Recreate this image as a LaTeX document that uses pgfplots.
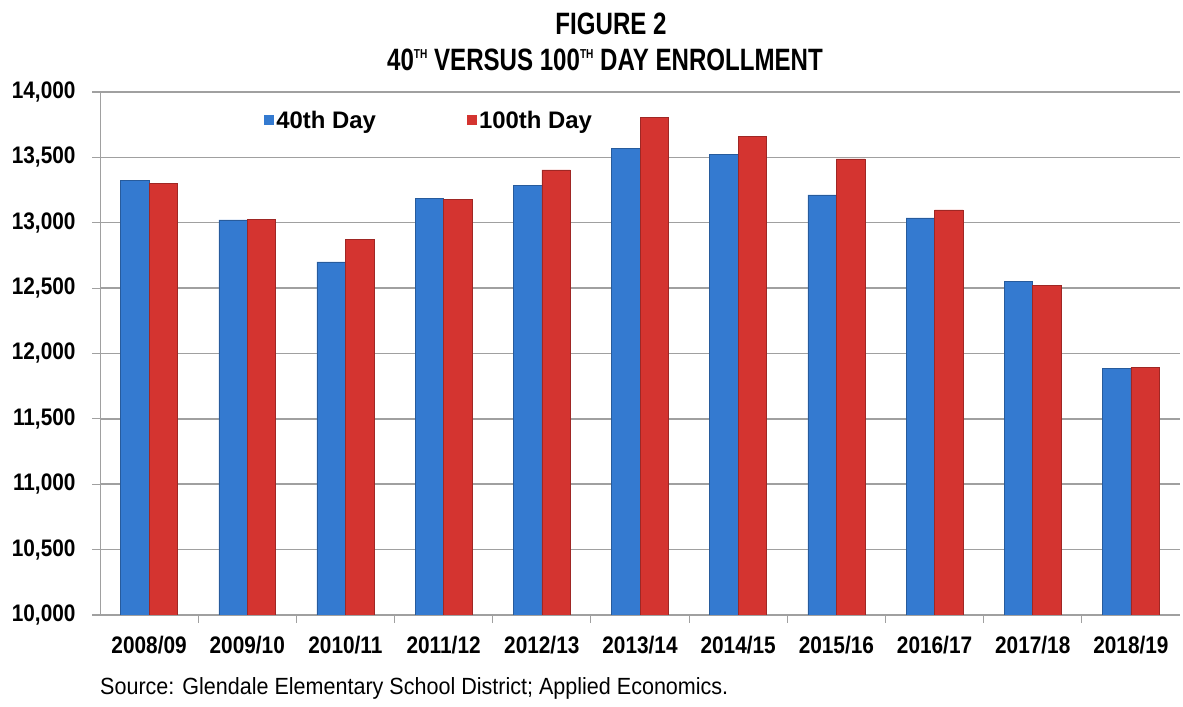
\documentclass[border=0pt]{standalone}
\usepackage{pgfplots}
\pgfplotsset{compat=1.18}
\usepackage{fontspec}
\setmainfont{Liberation Sans}
\newfontfamily\narrowfont{Liberation Sans}[FakeStretch=0.78]
\newfontfamily\condfont{Liberation Sans}[FakeStretch=0.87]
\newfontfamily\srcfont{Liberation Sans}[FakeStretch=0.92]
\definecolor{barblue}{RGB}{52,122,208}
\definecolor{barred}{RGB}{212,52,48}
\definecolor{gridgray}{RGB}{160,160,160}

\pgfplotstableread{
x  d40    d100
0  13323  13302
1  13022  13024
2  12700  12872
3  13188  13176
4  13284  13404
5  13566  13804
6  13522  13660
7  13213  13489
8  13037  13098
9  12550  12523
10 11888  11892
}\enrol

\newcommand{\sth}{\raisebox{12bp}{\fontsize{13}{13}\selectfont TH}}

\begin{document}
\begin{tikzpicture}[x=1bp,y=1bp]
\useasboundingbox (0,0) rectangle (1183,707);
\begin{axis}[
  at={(100bp,92bp)}, anchor=south west,
  scale only axis, width=1080bp, height=523bp,
  xmin=-0.5, xmax=10.5, ymin=10000, ymax=14000,
  ybar=0pt, bar width=0.29,
  axis lines*=left,
  axis line style={gridgray, line width=0.6bp},
  xtick={0,...,10},
  xticklabels={2008/09,2009/10,2010/11,2011/12,2012/13,2013/14,2014/15,2015/16,2016/17,2017/18,2018/19},
  minor xtick={0.5,1.5,...,9.5},
  major x tick style={draw=none},
  minor x tick style={gridgray, line width=1bp},
  minor tick length=8bp,
  tick align=outside,
  ytick={10000,10500,...,14000},
  major y tick style={gridgray, line width=1.2bp},
  major tick length=8bp,
  ymajorgrids,
  major grid style={gridgray, line width=1.5bp},
  scaled y ticks=false,
  /pgf/number format/.cd, 1000 sep={,}, assume math mode=true, /pgfplots/.cd,
  yticklabel style={font=\condfont\fontsize{24}{26}\selectfont\bfseries, xshift=-13bp},
  xticklabel style={font=\condfont\fontsize{24}{26}\selectfont\bfseries, yshift=-10bp},
  legend columns=2,
  legend style={at={(rel axis cs:0.152,0.946)}, anchor=west, draw=none, fill=none,
    inner sep=0pt, font=\fontsize{24}{26}\selectfont\bfseries,
    nodes={inner xsep=2bp, inner ysep=0pt},
    /tikz/every even column/.append style={column sep=89bp}},
  legend image code/.code={\path[#1, draw=none] (0bp,-5bp) rectangle (10bp,5bp);},
]
\addplot[draw=barblue!75!black, line width=0.5bp, fill=barblue] table[x=x, y=d40] {\enrol};
\addplot[draw=barred!75!black, line width=0.5bp, fill=barred] table[x=x, y=d100] {\enrol};
\legend{40th Day, 100th Day}
\end{axis}
\node[font=\narrowfont\fontsize{31}{34}\selectfont\bfseries] at (611,683) {FIGURE 2};
\node[font=\narrowfont\fontsize{31}{34}\selectfont\bfseries] at (605,647) {40\sth{} VERSUS 100\sth{} DAY ENROLLMENT};
\node[anchor=base west, inner sep=0pt, font=\srcfont\fontsize{23.5}{26}\selectfont] at (100,12) {Source: Glendale Elementary School District; Applied Economics.};
\end{tikzpicture}
\end{document}
